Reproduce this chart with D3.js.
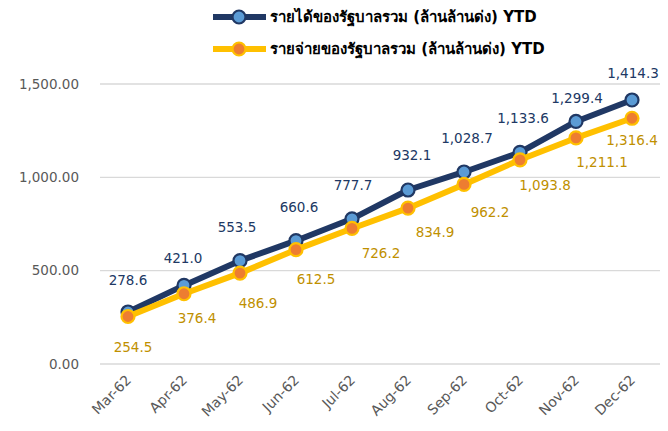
<!DOCTYPE html>
<html>
<head>
<meta charset="utf-8">
<script src="https://cdn.jsdelivr.net/npm/d3@7"></script>
<style>
  body { margin: 0; background: #fff; }
  #vis { width: 668px; height: 431px; }
  text { font-family: "DejaVu Sans", sans-serif; }
</style>
</head>
<body>
<div id="vis"></div>
<script>
// data
var months = ["Mar-62", "Apr-62", "May-62", "Jun-62", "Jul-62", "Aug-62", "Sep-62", "Oct-62", "Nov-62", "Dec-62"];
var revenue = [278.6, 421.0, 553.5, 660.6, 777.7, 932.1, 1028.7, 1133.6, 1299.4, 1414.3];
var spending = [254.5, 376.4, 486.9, 612.5, 726.2, 834.9, 962.2, 1093.8, 1211.1, 1316.4];
var yTicks = [0, 500, 1000, 1500];
var seriesNames = ["รายได้ของรัฐบาลรวม (ล้านล้านด่ง) YTD", "รายจ่ายของรัฐบาลรวม (ล้านล้านด่ง) YTD"];

// label nudges (layout only), as placed in the original
var revLabelShift = [[0,-32],[-1,-27],[-3,-33],[3,-33],[1,-34],[4,-35],[3,-34],[3,-34],[1,-23],[1,-27]];
var spLabelShift = [[5,31],[13,25],[18,30],[20,30],[29,25],[27,24],[26,28],[25,25],[26,24],[0,22]];

var width = 668, height = 431;
var plotLeft = 100, plotRight = 660, plotTop = 84, plotBottom = 364;

var svg = d3.select("#vis").append("svg")
  .attr("width", width)
  .attr("height", height);

var x = d3.scaleBand().domain(months).range([plotLeft, plotRight]);
var y = d3.scaleLinear().domain([0, 1500]).range([plotBottom, plotTop]);
var fmtTick = d3.format(",.2f");
var fmtLab = d3.format(",.1f");

function cx(i) { return x(months[i]) + x.bandwidth() / 2; }

// gridlines
svg.append("g").selectAll("line")
  .data(yTicks)
  .enter().append("line")
  .attr("x1", plotLeft).attr("x2", plotRight)
  .attr("y1", function(d){ return y(d); })
  .attr("y2", function(d){ return y(d); })
  .attr("stroke", "#d9d9d9")
  .attr("stroke-width", 1.3);

// y axis labels
svg.append("g").selectAll("text")
  .data(yTicks)
  .enter().append("text")
  .attr("x", 79)
  .attr("y", function(d){ return y(d); })
  .attr("dy", "0.35em")
  .attr("text-anchor", "end")
  .attr("fill", "#595959")
  .style("font-size", "13.5px")
  .text(function(d){ return fmtTick(d); });

// x axis labels
svg.append("g").selectAll("text")
  .data(months)
  .enter().append("text")
  .attr("transform", function(d, i){
    return "translate(" + (cx(i) + 4) + ",381) rotate(-45)";
  })
  .attr("text-anchor", "end")
  .attr("fill", "#595959")
  .style("font-size", "14px")
  .text(function(d){ return d; });

var series = [
  { vals: revenue, line: "#203864", fill: "#5b9bd5", stroke: "#203864", label: "#203864", shift: revLabelShift },
  { vals: spending, line: "#ffc000", fill: "#ed7d31", stroke: "#ffc000", label: "#bf9000", shift: spLabelShift }
];

var line = d3.line()
  .x(function(d, i){ return cx(i); })
  .y(function(d){ return y(d); });

series.forEach(function(s){
  svg.append("path")
    .attr("d", line(s.vals))
    .attr("fill", "none")
    .attr("stroke", s.line)
    .attr("stroke-width", 6)
    .attr("stroke-linejoin", "round");

  svg.append("g").selectAll("circle")
    .data(s.vals)
    .enter().append("circle")
    .attr("cx", function(d, i){ return cx(i); })
    .attr("cy", function(d){ return y(d); })
    .attr("r", 6.5)
    .attr("fill", s.fill)
    .attr("stroke", s.stroke)
    .attr("stroke-width", 2.2);
});

series.forEach(function(s){
  svg.append("g").selectAll("text")
    .data(s.vals)
    .enter().append("text")
    .attr("x", function(d, i){ return cx(i) + s.shift[i][0]; })
    .attr("y", function(d, i){ return y(d) + s.shift[i][1]; })
    .attr("dy", "0.35em")
    .attr("text-anchor", "middle")
    .attr("fill", s.label)
    .style("font-size", "13.5px")
    .text(function(d){ return fmtLab(d); });
});

// legend
var legend = svg.append("g");
series.forEach(function(s, i){
  var ly = 17 + i * 32;
  legend.append("line")
    .attr("x1", 213).attr("x2", 266)
    .attr("y1", ly).attr("y2", ly)
    .attr("stroke", s.line)
    .attr("stroke-width", 6);
  legend.append("circle")
    .attr("cx", 239).attr("cy", ly)
    .attr("r", 6.5)
    .attr("fill", s.fill)
    .attr("stroke", s.stroke)
    .attr("stroke-width", 2.2);
  legend.append("text")
    .attr("x", 270).attr("y", ly)
    .attr("dy", "0.35em")
    .attr("fill", "#000")
    .style("font-size", "15px")
    .style("font-weight", "bold")
    .text(seriesNames[i]);
});
</script>
</body>
</html>
